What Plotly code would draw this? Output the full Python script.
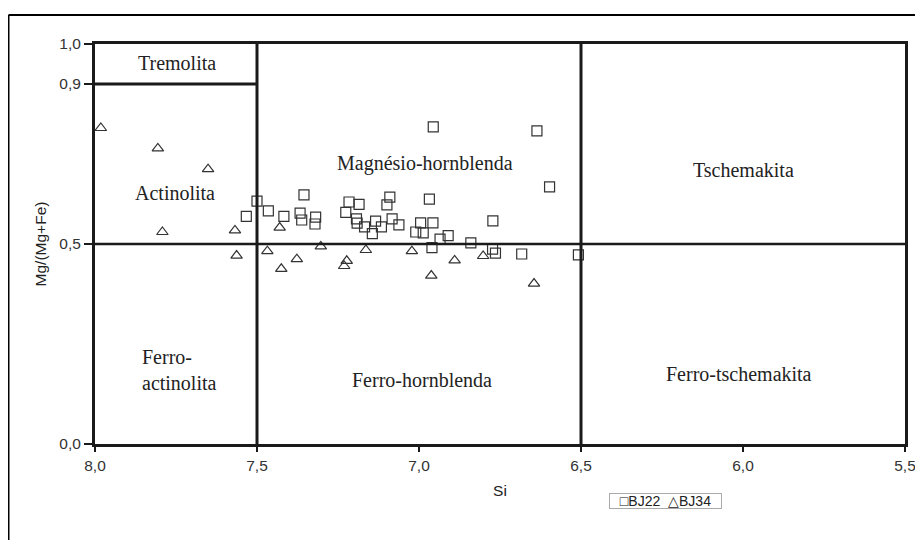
import plotly.graph_objects as go

# BJ22 (squares)
bj22_si = [7.533, 7.500, 7.465, 7.417, 7.355, 7.367, 7.362, 7.319, 7.321, 7.216,
           7.185, 7.226, 7.193, 7.191, 7.168, 7.144, 7.134, 7.116, 7.090, 7.099,
           7.083, 7.062, 7.010, 6.956, 6.636, 6.597, 6.968, 6.995, 6.957, 6.987,
           6.772, 6.910, 6.935, 6.960, 6.840, 6.773, 6.764, 6.683, 6.508]
bj22_mg = [0.569, 0.607, 0.583, 0.569, 0.623, 0.577, 0.560, 0.567, 0.550, 0.605,
           0.599, 0.579, 0.563, 0.552, 0.543, 0.526, 0.557, 0.543, 0.617, 0.598,
           0.563, 0.548, 0.530, 0.793, 0.783, 0.643, 0.612, 0.553, 0.553, 0.528,
           0.558, 0.521, 0.512, 0.491, 0.503, 0.487, 0.477, 0.475, 0.473]

# BJ34 (triangles)
bj34_si = [7.982, 7.806, 7.651, 7.792, 7.568, 7.563, 7.430, 7.468, 7.425, 7.377,
           7.303, 7.223, 7.231, 7.164, 7.022, 6.890, 6.962, 6.802, 6.645]
bj34_mg = [0.790, 0.739, 0.687, 0.530, 0.534, 0.471, 0.541, 0.482, 0.438, 0.462,
           0.494, 0.458, 0.445, 0.485, 0.482, 0.459, 0.421, 0.470, 0.401]

series_names = ["BJ22", "BJ34"]
series_glyphs = ["□", "△"]

x_ticks = [8.0, 7.5, 7.0, 6.5, 6.0, 5.5]
x_ticklabels = ["8,0", "7,5", "7,0", "6,5", "6,0", "5,5"]
y_ticks = [0.0, 0.5, 0.9, 1.0]
y_ticklabels = ["0,0", "0,5", "0,9", "1,0"]

# field boundaries: (x0, x1, y0, y1)
boundaries = [(7.5, 7.5, 0.0, 1.0), (6.5, 6.5, 0.0, 1.0),
              (8.0, 5.5, 0.5, 0.5), (8.0, 7.5, 0.9, 0.9)]
boundary_widths = [3, 3, 2.5, 3]

# field names: (x, y, text, align)
fields = [(7.747, 0.9525, "Tremolita", "center"), (7.753, 0.6275, "Actinolita", "center"),
          (6.98, 0.7025, "Magnésio-hornblenda", "center"), (6.0, 0.685, "Tschemakita", "center"),
          (7.74, 0.185, "Ferro-<br>actinolita", "left"), (6.99, 0.16, "Ferro-hornblenda", "center"),
          (6.012, 0.175, "Ferro-tschemakita", "center")]

mcol = "#333333"
fig = go.Figure()
fig.add_trace(go.Scatter(x=bj22_si, y=bj22_mg, mode="markers", name=series_names[0],
                         showlegend=False,
                         marker=dict(symbol="square-open", size=10, color=mcol,
                                     line=dict(width=1.2, color=mcol))))
fig.add_trace(go.Scatter(x=bj34_si, y=bj34_mg, mode="markers", name=series_names[1],
                         showlegend=False,
                         marker=dict(symbol="triangle-up-open", size=10, color=mcol,
                                     line=dict(width=1.2, color=mcol))))

for (x0, x1, y0, y1), w in zip(boundaries, boundary_widths):
    fig.add_shape(type="line", x0=x0, x1=x1, y0=y0, y1=y1, xref="x", yref="y",
                  line=dict(color="#1a1a1a", width=w), layer="above")

for x, y, t, al in fields:
    fig.add_annotation(x=x, y=y, text=t, showarrow=False, xref="x", yref="y",
                       font=dict(family="Liberation Serif", size=20, color="#222"),
                       align=al)

# compact legend box as in the original
legend_text = "  ".join(g + n for g, n in zip(series_glyphs, series_names))
fig.add_annotation(x=(665.5 - 8 - 87) / 810, y=(436 - 493) / 400, xref="paper", yref="paper",
                   text=legend_text, showarrow=False, xanchor="center", yanchor="middle",
                   width=111, height=14, align="center",
                   font=dict(family="Liberation Sans, Arial", size=14, color="#222"),
                   bordercolor="#aaa", borderwidth=1, borderpad=0, bgcolor="white")

# outer frame (page body has an 8px margin; figure is offset by it)
fx = (0.5 - 87) / 810
fy = (436 - 7) / 400
fig.add_shape(type="line", xref="paper", yref="paper", x0=fx, x1=1.05, y0=fy, y1=fy,
              line=dict(color="black", width=2))
fig.add_shape(type="line", xref="paper", yref="paper", x0=fx, x1=fx, y0=fy, y1=-0.3,
              line=dict(color="black", width=2))

axfont = dict(family="Liberation Sans, Arial", size=15.5, color="#333")
titlefont = dict(family="Liberation Sans, Arial", size=15.5, color="#222")
fig.update_layout(
    width=915, height=532,
    margin=dict(l=87, r=18, t=36, b=96, autoexpand=False),
    plot_bgcolor="white", paper_bgcolor="white",
    showlegend=False,
    xaxis=dict(range=[8.0, 5.5], tickvals=x_ticks, ticktext=x_ticklabels,
               showgrid=False, zeroline=False, showline=True, mirror=True,
               linecolor="#1a1a1a", linewidth=3, ticks="outside", ticklen=5,
               tickwidth=2, tickcolor="#1a1a1a", tickfont=axfont, automargin=False,
               title=dict(text="Si", font=titlefont, standoff=13)),
    yaxis=dict(range=[0.0, 1.0], tickvals=y_ticks, ticktext=y_ticklabels,
               showgrid=False, zeroline=False, showline=True, mirror=True,
               linecolor="#1a1a1a", linewidth=3, ticks="outside", ticklen=8,
               tickwidth=2, tickcolor="#1a1a1a", tickfont=axfont, automargin=False,
               title=dict(text="Mg/(Mg+Fe)", font=titlefont, standoff=9)),
)

fig.write_html("out.html")
